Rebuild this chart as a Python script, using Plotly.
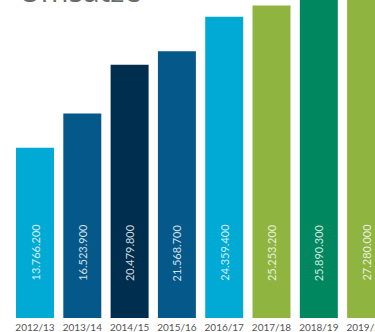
import plotly.graph_objects as go

categories = ["2012/13", "2013/14", "2014/15", "2015/16", "2016/17", "2017/18", "2018/19", "2019/20"]
values = [13766200, 16523900, 20479800, 21568700, 24359400, 25253200, 25890300, 27280000]
colors = ["#00AAD5", "#05588A", "#002E4E", "#05588A", "#00AAD5", "#8FB43F", "#00875F", "#8FB43F"]
title_text = "Umsätze"


def fmt(v):
    return f"{v:,}".replace(",", ".")


fig = go.Figure()
fig.add_trace(go.Bar(
    x=categories, y=values,
    marker=dict(color=colors, line=dict(width=0)),
    width=0.803,
    hoverinfo="skip",
))

annotations = []
for c, v in zip(categories, values):
    annotations.append(dict(
        x=c, y=0, xref="x", yref="y",
        text=fmt(v), showarrow=False, textangle=-90,
        xanchor="center", yanchor="bottom", yshift=35,
        font=dict(family="Lato", size=11, color="rgba(255,255,255,0.82)"),
    ))
annotations.append(dict(
    x=17 / 375, y=1, xref="paper", yref="paper",
    text=title_text, showarrow=False, xanchor="left", yanchor="bottom",
    yshift=-13,
    font=dict(family="Open Sans", size=30, color="#6b6b6b"),
))

fig.update_layout(
    width=375, height=332,
    margin=dict(l=0, r=0, t=0, b=14),
    paper_bgcolor="white", plot_bgcolor="white",
    showlegend=False,
    hovermode=False,
    xaxis=dict(type="category", categoryarray=categories, range=[-0.74, 7.188],
               showgrid=False, zeroline=False, showline=False, ticks="",
               automargin=False, ticklabelstandoff=2, fixedrange=True,
               tickfont=dict(family="Lato", size=10, color="#555555")),
    yaxis=dict(range=[0, 318 / 0.01237 * 1000], visible=False, showgrid=False,
               zeroline=False, automargin=False, fixedrange=True),
    annotations=annotations,
)

fig.write_html("out.html", config={"displayModeBar": False},
               post_script="document.body.style.margin='0';document.body.style.overflow='hidden';")
